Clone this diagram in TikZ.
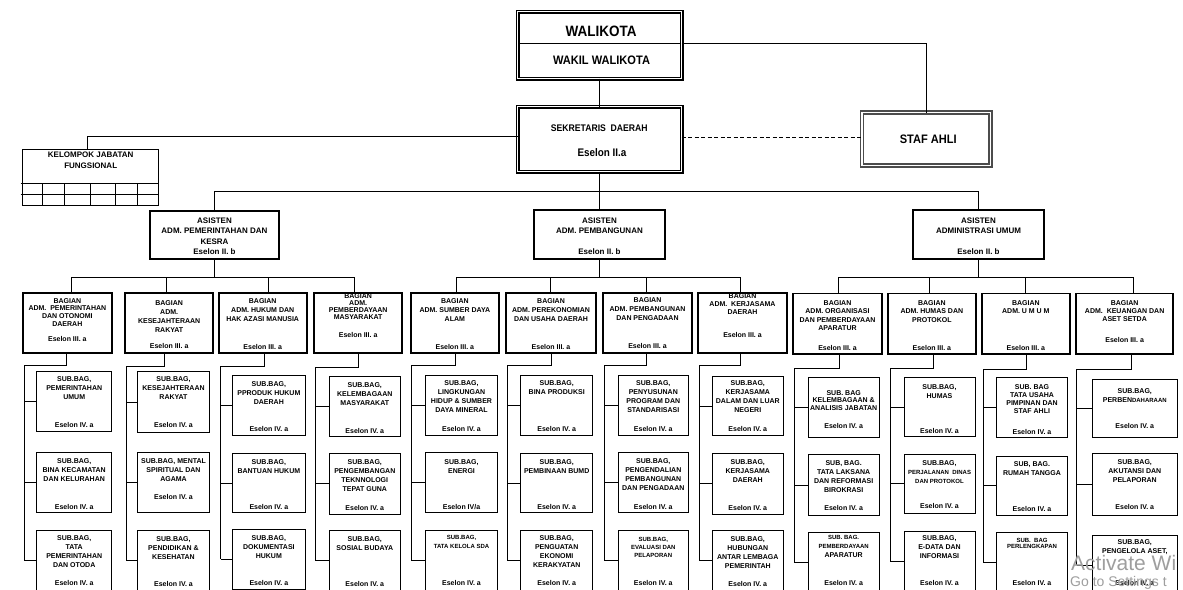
\documentclass[tikz,border=0pt]{standalone}
\usepackage{fontspec}
\setmainfont{Liberation Sans}
\newfontfamily\topfont{Liberation Sans}[FakeStretch=0.9]
\usetikzlibrary{calc}
\newcommand\smallf{\fontsize{6}{7.5}\selectfont}
\newcommand\mkbox[9]{%
  \node[#5, minimum width=#3, minimum height=#4] (#1) at #2
  {\parbox[c][#4][t]{#3}{\centering\vspace*{#6}#8\par\vfill #9\par\vspace*{#7}}};}
\tikzset{
  conn/.style={draw=black, line width=0.8pt},
  subbx/.style={draw=black, line width=0.9pt, anchor=north west, inner sep=0pt, outer sep=0pt, font=\bfseries\fontsize{7}{9}\selectfont},
  bagbx/.style={draw=black, line width=1.7pt, anchor=north west, inner sep=0pt, outer sep=0pt, font=\bfseries\fontsize{7}{9}\selectfont},
  asbx/.style={bagbx, font=\bfseries\fontsize{8}{10.4}\selectfont},
  kjfbx/.style={subbx, font=\bfseries\fontsize{8}{11.3}\selectfont},
  dblbx/.style={draw=black, double=white, double distance=1.8pt, line width=1.1pt, anchor=north west, inner sep=0pt, outer sep=0pt},
  lbl/.style={inner sep=0pt, anchor=center},
  wmark/.style={inner sep=0pt, anchor=base west, text=black!38},
}
\begin{document}
\begin{tikzpicture}[x=1pt,y=-1pt]
\useasboundingbox (0,0) rectangle (1183,589);
\fill[white] (0,0) rectangle (1183,589);
\clip (0,0) rectangle (1183,589);

% ---------- top level ----------
\node[dblbx, minimum width=164pt, minimum height=67pt] (walibox) at (517.5,11.5) {};
\node[lbl, font=\topfont\bfseries\fontsize{15}{15}\selectfont] (wali) at (601,31.3) {WALIKOTA};
\node[lbl, font=\topfont\bfseries\fontsize{12.3}{12.3}\selectfont] (wakil) at (601.5,60.7) {WAKIL WALIKOTA};
\coordinate (dvl) at (519.5,43.7);
\coordinate (dvr) at (679.5,43.7);
\draw[line width=1.1pt] (dvl) -- (dvr);

\node[dblbx, minimum width=164pt, minimum height=65pt] (sekda) at (517.5,106.5) {};
\node[lbl, font=\topfont\bfseries\fontsize{9.6}{10}\selectfont] (sekt) at (599.3,127.7) {SEKRETARIS\ \ DAERAH};
\node[lbl, font=\topfont\bfseries\fontsize{11}{11}\selectfont] (sekes) at (602,152.3) {Eselon II.a};

\node[dblbx, draw=black!70, line width=1.4pt, double distance=1.5pt, minimum width=128.5pt, minimum height=53pt] (staf) at (862,112.5) {};
\node[lbl, font=\topfont\bfseries\fontsize{12.3}{12.3}\selectfont] (staft) at (928.3,139) {STAF AHLI};

\mkbox{kjf}{(22.7,149.3)}{136pt}{55.7pt}{kjfbx}{2.5pt}{0pt}{KELOMPOK JABATAN\\FUNGSIONAL}{}
\draw[line width=0.8pt] (20.7,183.3) -- (158.7,183.3);
\draw[line width=0.8pt] (20.7,194.3) -- (158.7,194.3);
\foreach \x in {42.7,64.3,90,115.7,137.3} \draw[line width=0.8pt] (\x,183.3) -- (\x,205);

% connectors top
\draw[conn] (walibox.south) -- (sekda.north);
\draw[conn] (walibox.east |- dvr) -| (staf.north);
\coordinate (dsh) at (700,137.3);
\draw[conn, dash pattern=on 4pt off 2.5pt] (sekda.east |- dsh) -- (staf.west |- dsh);
\coordinate (kj) at (87.7,136);
\draw[conn] (sekda.west |- kj) -- (kj) -- (kj |- kjf.north);

% ---------- asisten ----------
\mkbox{as1}{(150,211)}{129pt}{48pt}{asbx}{6.8pt}{4.1pt}{ASISTEN\\ADM. PEMERINTAHAN DAN\\KESRA}{Eselon II. b}
\mkbox{as2}{(534.3,210)}{130.4pt}{49.3pt}{asbx}{7.8pt}{4.4pt}{ASISTEN\\ADM. PEMBANGUNAN}{Eselon II. b}
\mkbox{as3}{(913.3,210)}{130.4pt}{49.3pt}{asbx}{7.8pt}{4.4pt}{ASISTEN\\ADMINISTRASI UMUM}{Eselon II. b}

\coordinate (ab) at (599,191);
\draw[conn] (sekda.south) -- (as2.north);
\draw[conn] (as1.north) -- (as1.north |- ab) -- (as3.north |- ab) -- (as3.north);

% ---------- bagian ----------
\mkbox{b1}{(22.7,293)}{89.3pt}{60pt}{bagbx}{5.5pt}{11.9pt}{\setlength\baselineskip{7.6pt}BAGIAN\\ADM.\ \ PEMERINTAHAN\\DAN OTONOMI\\DAERAH}{Eselon III. a}
\mkbox{b2}{(125,293)}{88.3pt}{60pt}{bagbx}{7.5pt}{4.5pt}{BAGIAN\\ADM.\\KESEJAHTERAAN\\RAKYAT}{Eselon III. a}
\mkbox{b3}{(218.7,293)}{88pt}{60pt}{bagbx}{6.1pt}{3.5pt}{\setlength\baselineskip{8.7pt}BAGIAN\\ADM. HUKUM DAN\\HAK AZASI MANUSIA}{Eselon III. a}
\mkbox{b4}{(314.3,293)}{87.7pt}{60pt}{bagbx}{0.8pt}{15.9pt}{\setlength\baselineskip{7.1pt}BAGIAN\\ADM.\\PEMBERDAYAAN\\MASYARAKAT}{Eselon III. a}
\mkbox{b5}{(410.7,293)}{88.3pt}{60pt}{bagbx}{5.5pt}{3.8pt}{BAGIAN\\ADM. SUMBER DAYA\\ALAM}{Eselon III. a}
\mkbox{b6}{(506,293)}{90pt}{60pt}{bagbx}{5.5pt}{3.8pt}{BAGIAN\\ADM. PEREKONOMIAN\\DAN USAHA DAERAH}{Eselon III. a}
\mkbox{b7}{(603.3,293)}{88.4pt}{60pt}{bagbx}{4.5pt}{4.8pt}{BAGIAN\\ADM. PEMBANGUNAN\\DAN PENGADAAN}{Eselon III. a}
\mkbox{b8}{(697.7,293)}{89.6pt}{60pt}{bagbx}{0.5pt}{15.5pt}{\setlength\baselineskip{8.3pt}BAGIAN\\ADM.\ \ KERJASAMA\\DAERAH}{Eselon III. a}
\mkbox{b9}{(793.3,293.5)}{88.4pt}{60.5pt}{bagbx}{7.3pt}{3.2pt}{\setlength\baselineskip{8.3pt}BAGIAN\\ADM. ORGANISASI\\DAN PEMBERDAYAAN\\APARATUR}{Eselon III. a}
\mkbox{b10}{(887.7,293.5)}{88.3pt}{60.5pt}{bagbx}{7.3pt}{3.2pt}{\setlength\baselineskip{8.3pt}BAGIAN\\ADM. HUMAS DAN\\PROTOKOL}{Eselon III. a}
\mkbox{b11}{(981.7,293.5)}{88.3pt}{60.5pt}{bagbx}{7.3pt}{3.2pt}{\setlength\baselineskip{8.3pt}BAGIAN\\ADM. U M U M}{Eselon III. a}
\mkbox{b12}{(1076,293.5)}{97.3pt}{60.5pt}{bagbx}{7.3pt}{11.5pt}{\setlength\baselineskip{7.7pt}BAGIAN\\ADM.\ \ KEUANGAN DAN\\ASET SETDA}{Eselon III. a}

\foreach \k/\x in {1/71,2/166,3/268.3,4/354,5/456.7,6/550.7,7/646.7,8/740.7,9/838.3,10/929.7,11/1025.7,12/1133.3}{
  \coordinate (j\k) at (\x,277);
  \draw[conn] (j\k) -- (j\k |- b\k.north);
}
\draw[conn] (j1) -- (j4);
\draw[conn] (j5) -- (j8);
\draw[conn] (j9) -- (j12);
\draw[conn] (as1.south) -- (as1.south |- j1);
\draw[conn] (as2.south) -- (as2.south |- j5);
\draw[conn] (as3.south) -- (as3.south |- j9);

% ---------- sub bagian ----------
\mkbox{s1-1}{(36.7,371.7)}{75pt}{60pt}{subbx}{4.8pt}{4.2pt}{SUB.BAG,\\PEMERINTAHAN\\UMUM}{Eselon IV. a}
\mkbox{s1-2}{(36.7,452.3)}{75pt}{60.4pt}{subbx}{6.2pt}{3.5pt}{SUB.BAG,\\BINA KECAMATAN\\DAN KELURAHAN}{Eselon IV. a}
\mkbox{s1-3}{(36.7,530.7)}{75pt}{60pt}{subbx}{5.1pt}{4.9pt}{SUB.BAG,\\TATA\\PEMERINTAHAN\\DAN OTODA}{Eselon IV. a}

\mkbox{s2-1}{(137.7,371.7)}{71.6pt}{61pt}{subbx}{4.8pt}{5.2pt}{SUB.BAG,\\KESEJAHTERAAN\\RAKYAT}{Eselon IV. a}
\mkbox{s2-2}{(137.7,452.3)}{71.6pt}{60.4pt}{subbx}{6.2pt}{13.5pt}{SUB.BAG, MENTAL\\SPIRITUAL DAN\\AGAMA}{Eselon IV. a}
\mkbox{s2-3}{(137.7,530)}{71.6pt}{60pt}{subbx}{6.8pt}{3.5pt}{SUB.BAG,\\PENDIDIKAN \&\\KESEHATAN}{Eselon IV. a}

\mkbox{s3-1}{(232.7,375.7)}{72.3pt}{60pt}{subbx}{5.8pt}{3.9pt}{SUB.BAG,\\PPRODUK HUKUM\\DAERAH}{Eselon IV. a}
\mkbox{s3-2}{(232.7,453.3)}{72.3pt}{59.4pt}{subbx}{5.9pt}{3.5pt}{SUB.BAG,\\BANTUAN HUKUM}{Eselon IV. a}
\mkbox{s3-3}{(232.7,529.3)}{72.3pt}{60pt}{subbx}{6.5pt}{3.5pt}{SUB.BAG,\\DOKUMENTASI\\HUKUM}{Eselon IV. a}

\mkbox{s4-1}{(329.3,376.7)}{71pt}{59.3pt}{subbx}{5.8pt}{2.8pt}{SUB.BAG,\\KELEMBAGAAN\\MASYARAKAT}{Eselon IV. a}
\mkbox{s4-2}{(329.3,453.3)}{71pt}{61pt}{subbx}{6.5pt}{4.1pt}{SUB.BAG,\\PENGEMBANGAN\\TEKNNOLOGI\\TEPAT GUNA}{Eselon IV. a}
\mkbox{s4-3}{(329.3,530.7)}{71pt}{60pt}{subbx}{6.1pt}{3.9pt}{SUB.BAG,\\SOSIAL BUDAYA}{Eselon IV. a}

\mkbox{s5-1}{(425.7,375.7)}{71.6pt}{60pt}{subbx}{4.5pt}{3.9pt}{SUB.BAG,\\LINGKUNGAN\\HIDUP \& SUMBER\\DAYA MINERAL}{Eselon IV. a}
\mkbox{s5-2}{(425.7,452.3)}{71.6pt}{60.4pt}{subbx}{6.9pt}{3.5pt}{SUB.BAG,\\ENERGI}{Eselon IV/a}
\mkbox{s5-3}{(425.7,530.7)}{71.6pt}{60pt}{subbx}{4.9pt}{5.5pt}{{\smallf\setlength\baselineskip{8.3pt}SUB.BAG,\\TATA KELOLA SDA\par}}{Eselon IV. a}

\mkbox{s6-1}{(520.7,375.7)}{72pt}{60pt}{subbx}{5.1pt}{3.9pt}{SUB.BAG,\\BINA PRODUKSI}{Eselon IV. a}
\mkbox{s6-2}{(520.7,453.3)}{72pt}{59.4pt}{subbx}{5.9pt}{3.5pt}{SUB.BAG,\\PEMBINAAN BUMD}{Eselon IV. a}
\mkbox{s6-3}{(520.7,530.7)}{72pt}{60pt}{subbx}{5.1pt}{4.9pt}{SUB.BAG,\\PENGUATAN\\EKONOMI\\KERAKYATAN}{Eselon IV. a}

\mkbox{s7-1}{(618.3,375.7)}{70pt}{60pt}{subbx}{5.1pt}{3.9pt}{SUB.BAG,\\PENYUSUNAN\\PROGRAM DAN\\STANDARISASI}{Eselon IV. a}
\mkbox{s7-2}{(618.3,452.3)}{70pt}{60.4pt}{subbx}{6.2pt}{3.5pt}{SUB.BAG,\\PENGENDALIAN\\PEMBANGUNAN\\DAN PENGADAAN}{Eselon IV. a}
\mkbox{s7-3}{(618.3,530.7)}{70pt}{60pt}{subbx}{6.4pt}{5.5pt}{{\smallf\setlength\baselineskip{8pt}SUB.BAG,\\EVALUASI DAN\\PELAPORAN\par}}{Eselon IV. a}

\mkbox{s8-1}{(712.3,376.7)}{71pt}{59pt}{subbx}{4.1pt}{3.9pt}{SUB.BAG,\\KERJASAMA\\DALAM DAN LUAR\\NEGERI}{Eselon IV. a}
\mkbox{s8-2}{(712.3,453.3)}{71pt}{61pt}{subbx}{6.5pt}{4.1pt}{SUB.BAG,\\KERJASAMA\\DAERAH}{Eselon IV. a}
\mkbox{s8-3}{(712.3,530.7)}{71pt}{60pt}{subbx}{6.1pt}{4.2pt}{SUB.BAG,\\HUBUNGAN\\ANTAR LEMBAGA\\PEMERINTAH}{Eselon IV. a}

\mkbox{s9-1}{(808.3,377.7)}{70.7pt}{59.6pt}{subbx}{12.5pt}{9.1pt}{\setlength\baselineskip{7.8pt}SUB. BAG\\KELEMBAGAAN \&\\ANALISIS JABATAN}{Eselon IV. a}
\mkbox{s9-2}{(808.3,454.3)}{70.7pt}{61.4pt}{subbx}{6.5pt}{4.9pt}{SUB, BAG.\\TATA LAKSANA\\DAN REFORMASI\\BIROKRASI}{Eselon IV. a}
\mkbox{s9-3}{(808.3,532.3)}{70.7pt}{60pt}{subbx}{3.2pt}{7.1pt}{{\smallf SUB. BAG.\\PEMBERDAYAAN}\\APARATUR}{Eselon IV. a}

\mkbox{s10-1}{(904,377.7)}{71pt}{59pt}{subbx}{7.1pt}{3.5pt}{SUB.BAG,\\HUMAS}{Eselon IV. a}
\mkbox{s10-2}{(904,454.3)}{71pt}{59pt}{subbx}{5.9pt}{4.8pt}{SUB.BAG,\\{\smallf PERJALANAN\ \ DINAS}\\{\smallf DAN PROTOKOL}}{Eselon IV. a}
\mkbox{s10-3}{(904,531.7)}{71pt}{60pt}{subbx}{4.1pt}{6.5pt}{SUB.BAG,\\E-DATA DAN\\INFORMASI}{Eselon IV. a}

\mkbox{s11-1}{(996.7,377.7)}{70.6pt}{60pt}{subbx}{6.5pt}{3.5pt}{\setlength\baselineskip{8.3pt}SUB. BAG\\TATA USAHA\\PIMPINAN DAN\\STAF AHLI}{Eselon IV. a}
\mkbox{s11-2}{(996.7,456)}{70.6pt}{59pt}{subbx}{5.5pt}{3.2pt}{SUB, BAG.\\RUMAH TANGGA}{Eselon IV. a}
\mkbox{s11-3}{(996.7,532.3)}{70.6pt}{60pt}{subbx}{6.2pt}{7.1pt}{{\smallf\setlength\baselineskip{6pt}SUB.\ \ BAG\\PERLENGKAPAN\par}}{Eselon IV. a}

\mkbox{s12-1}{(1092.3,379)}{85pt}{58.7pt}{subbx}{9.5pt}{9.5pt}{SUB.BAG,\\PERBEN{\smallf DAHARAAN}}{Eselon IV. a}
\mkbox{s12-2}{(1092.3,453.3)}{85pt}{61.7pt}{subbx}{6.5pt}{5.2pt}{SUB.BAG,\\AKUTANSI DAN\\PELAPORAN}{Eselon IV. a}
\mkbox{s12-3}{(1092.3,535)}{85pt}{60pt}{subbx}{4.2pt}{9.2pt}{SUB.BAG,\\PENGELOLA ASET,}{Eselon IV. a}

% trunks and branches
\foreach \k/\xv/\yh/\xl in {1/66.7/365.7/24, 2/164.3/366/126, 3/264.3/366/220.7, 4/358.3/367.3/315, 5/455.3/365.3/411.7, 6/551.7/365.3/507.3, 7/646.7/365.3/604, 8/740.7/365.3/699, 9/839.3/368.3/794, 10/933.3/368.3/890, 11/1026.7/369/983.3, 12/1131.7/369/1076.7}{
  \coordinate (v\k) at (\xv,\yh);
  \coordinate (l\k) at (\xl,\yh);
  \draw[conn] (v\k |- b\k.south) -- (v\k) -- (l\k) -- (l\k |- s\k-3.west);
  \foreach \r in {1,2,3}{\draw[conn] (l\k |- s\k-\r.west) -- (s\k-\r.west);}
}

% watermark (as seen, cut at the right edge)
\node[wmark, font=\fontsize{21}{21}\selectfont] (wm1) at (1071,570.8) {Activate Wi};
\node[wmark, font=\fontsize{14}{14}\selectfont] (wm2) at (1070,586.5) {Go to Settings t};
\end{tikzpicture}
\end{document}
